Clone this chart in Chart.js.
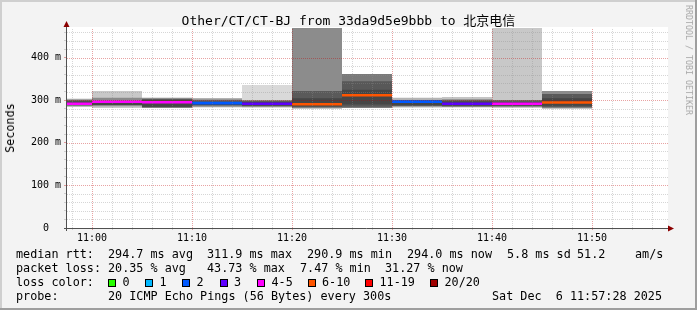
<!DOCTYPE html>
<html><head><meta charset="utf-8">
<script src="https://cdn.jsdelivr.net/npm/chart.js@4/dist/chart.umd.min.js"></script>
<style>
html,body{margin:0;padding:0;background:#f3f3f3;}
#wrap{position:relative;width:697px;height:310px;overflow:hidden;font-family:"DejaVu Sans Mono","Noto Sans CJK SC",monospace;color:#000;}
canvas{position:absolute;left:0;top:0;}
.t{position:absolute;white-space:pre;font-size:11.78px;line-height:14px;}
.sw{position:absolute;width:8px;height:8px;box-sizing:border-box;border:1px solid #000;}
#title{position:absolute;left:0;top:13px;width:697px;text-align:center;font-size:13px;line-height:16px;white-space:pre;}
#ylab{position:absolute;left:10px;top:128px;transform:translate(-50%,-50%) rotate(-90deg);font-size:11.78px;white-space:pre;}
#wm{position:absolute;left:689px;top:60px;transform:translate(-50%,-50%) rotate(90deg);font-size:8.3px;color:#a8a8a8;white-space:pre;}
</style>
</head><body>
<div id="wrap">
<canvas id="c" width="697" height="310"></canvas>
<div id="title"></div>
<div id="ylab"></div>
<div id="wm"></div>
<div id="legend"></div>
</div>
<script>
// ---------------- data ----------------
const chartTitle = 'Other/CT/CT-BJ from 33da9d5e9bbb to 北京电信';
const yAxisTitle = 'Seconds';
const slotStart = ['10:55','11:00','11:05','11:10','11:15','11:20','11:25','11:30','11:35','11:40','11:45'];
const medianRtt = [292, 296.5, 295.7, 293.5, 292, 291, 312, 297, 292, 292, 295];
const lostPings = [4, 4, 5, 2, 3, 9, 7, 2, 3, 5, 6];
const smokeOuterLo = [285, 282, 282, 284, 282, 281, 282, 283, 283, 282, 281];
const smokeOuterHi = [303.5, 322, 306, 305, 336, 520, 362, 306, 308, 520, 322];
const smokeMidLo   = [287, 286, 284, 287, 285, 284, 285, 286, 285, 285, 284];
const smokeMidHi   = [301, 306, 303, 301, 300, 322, 345, 301, 302, 301, 315];
const smokeInnerLo = [289, 289, 285, 289, 287, 286, 290, 288, 287, 287, 287];
const smokeInnerHi = [298, 298, 300, 297, 297, 305, 325, 299, 298, 297, 305];
const xTickLabels = ['11:00','11:10','11:20','11:30','11:40','11:50'];
const yTickValues = [0, 100, 200, 300, 400];
const yTickLabels = ['0  ','100 m','200 m','300 m','400 m'];
const lossLegendLabels = ['0','1','2','3','4-5','6-10','11-19','20/20'];
const lossLegendUpper  = [0, 1, 2, 3, 5, 10, 19, 20];
const medianStats = ['294.7 ms avg','311.9 ms max','290.9 ms min','294.0 ms now','5.8 ms sd','51.2','am/s'];
const lossStats = ['20.35 % avg','43.73 % max','7.47 % min','31.27 % now'];
const probeText = '20 ICMP Echo Pings (56 Bytes) every 300s';
const dateText = 'Sat Dec  6 11:57:28 2025';
const watermark = 'RRDTOOL / TOBI OETIKER';

// ---------------- styles ----------------
const lossColors = ['#26ff00','#00b8ff','#0059ff','#5e00ff','#ff00ff','#ff5500','#ff0000','#a00000'];
const outerShade = ['#a6a6a6','#c8c8c8','#8e8e8e','#9a9a9a','#d9d9d9','#8c8c8c','#7a7a7a','#b4b4b4','#c4c4c4','#c8c8c8','#8c8c8c'];
const midShade   = ['#6e6e6e','#8a8a8a','#5a5a5a','#6a6a6a','#707070','#5a5a5a','#585858','#6a6a6a','#6a6a6a','#707070','#5a5a5a'];
const innerShade = '#464646';
const SLOT_MIN = 5, X_MIN = -2.5, X_MAX = 57.5, Y_MAX = 470, LINE_HALF = 3;

const toMin = s => { const [h, m] = s.split(':').map(Number); return (h - 11) * 60 + m; };
const lossColor = n => lossColors[lossLegendUpper.findIndex(u => n <= u)];
const centers = slotStart.map(s => toMin(s) + SLOT_MIN / 2);
const band = (lo, hi) => centers.map((x, i) => ({x, y: [lo[i], hi[i]]}));
const xLabelAt = {}; xTickLabels.forEach(l => xLabelAt[toMin(l)] = l);
const yLabelAt = {}; yTickValues.forEach((v, i) => yLabelAt[v] = yTickLabels[i]);

const MINOR = 'rgba(140,140,140,0.36)';
const MAJOR = 'rgba(190,0,0,0.36)';
const gridColor = (v, major) => (v % major === 0) ? MAJOR : MINOR;

const PLOT_W = 600;
const barPx = PLOT_W / (X_MAX - X_MIN) * SLOT_MIN;

const deco = {
  id: 'deco',
  beforeDraw(chart) {
    const {ctx, chartArea: a, width: w, height: h} = chart;
    ctx.save();
    ctx.fillStyle = '#f3f3f3'; ctx.fillRect(0, 0, w, h);
    ctx.fillStyle = '#ffffff'; ctx.fillRect(a.left, a.top - 1, a.right - a.left + 1, a.bottom - a.top + 1);
    ctx.fillStyle = '#cfcfcf'; ctx.fillRect(0, 0, w, 2); ctx.fillRect(0, 0, 2, h);
    ctx.fillStyle = '#9e9e9e'; ctx.fillRect(0, h - 2, w, 2); ctx.fillRect(w - 2, 0, 2, h);
    ctx.restore();
  },
  afterDatasetsDraw(chart) {
    const {ctx, chartArea: a, scales: {x, y}} = chart;
    ctx.save();
    ctx.lineWidth = 1;
    ctx.setLineDash([1, 1]);
    x.ticks.forEach(t => {
      const px = Math.round(x.getPixelForValue(t.value)) + 0.5;
      ctx.strokeStyle = gridColor(t.value, 10);
      ctx.beginPath(); ctx.moveTo(px, a.bottom); ctx.lineTo(px, a.top); ctx.stroke();
    });
    y.ticks.forEach(t => {
      if (t.value === 0) return;
      const py = Math.round(y.getPixelForValue(t.value)) + 0.5;
      ctx.strokeStyle = gridColor(t.value, 100);
      ctx.beginPath(); ctx.moveTo(a.left, py); ctx.lineTo(a.right + 1, py); ctx.stroke();
    });
    ctx.restore();
  },
  afterDraw(chart) {
    const {ctx, chartArea: a} = chart;
    ctx.save();
    ctx.strokeStyle = '#505050'; ctx.lineWidth = 1;
    ctx.beginPath();
    ctx.moveTo(a.left - 0.5, a.bottom + 3); ctx.lineTo(a.left - 0.5, a.top - 2);
    ctx.moveTo(a.left - 3, a.bottom + 0.5); ctx.lineTo(a.right + 2, a.bottom + 0.5);
    ctx.stroke();
    ctx.fillStyle = '#8b0000';
    ctx.beginPath();
    ctx.moveTo(a.left - 0.5, a.top - 7); ctx.lineTo(a.left - 3.5, a.top - 1); ctx.lineTo(a.left + 2.5, a.top - 1); ctx.closePath(); ctx.fill();
    ctx.beginPath();
    ctx.moveTo(a.right + 7, a.bottom + 0.5); ctx.lineTo(a.right + 1, a.bottom - 2.5); ctx.lineTo(a.right + 1, a.bottom + 3.5); ctx.closePath(); ctx.fill();
    ctx.restore();
  }
};

const tickFont = {family: 'DejaVu Sans Mono', size: 10};

new Chart(document.getElementById('c'), {
  type: 'bar',
  data: {
    datasets: [
      {label: 'median', data: centers.map((x, i) => ({x, y: [medianRtt[i] - LINE_HALF, medianRtt[i] + LINE_HALF]})),
       backgroundColor: lostPings.map(lossColor), order: 1},
      {label: 'inner', data: band(smokeInnerLo, smokeInnerHi), backgroundColor: innerShade, order: 2},
      {label: 'mid', data: band(smokeMidLo, smokeMidHi), backgroundColor: midShade, order: 3},
      {label: 'outer', data: band(smokeOuterLo, smokeOuterHi), backgroundColor: outerShade, order: 4}
    ]
  },
  options: {
    responsive: false, animation: false, devicePixelRatio: 1,
    layout: {padding: {left: 0, top: 28, right: 30, bottom: 62}},
    plugins: {legend: {display: false}, tooltip: {enabled: false}, title: {display: false}},
    datasets: {bar: {grouped: false, barThickness: barPx, borderWidth: 0, inflateAmount: 0}},
    scales: {
      x: {
        type: 'linear', min: X_MIN, max: X_MAX, offset: false,
        afterFit(s) { s.height = 20; },
        afterBuildTicks(s) { const t = []; for (let v = -2; v <= 56; v += 2) t.push({value: v}); s.ticks = t; },
        ticks: {autoSkip: false, maxRotation: 0, minRotation: 0, padding: 2, font: tickFont, color: '#000',
                callback: v => xLabelAt[v] || ''},
        grid: {offset: false, drawOnChartArea: false, color: c => gridColor(c.tick ? c.tick.value : 1, 10), tickLength: 2, lineWidth: 1},
        border: {display: false}
      },
      y: {
        type: 'linear', min: 0, max: Y_MAX,
        afterFit(s) { s.width = 67; },
        afterBuildTicks(s) { const t = []; for (let v = 0; v <= 460; v += 20) t.push({value: v}); s.ticks = t; },
        ticks: {autoSkip: false, padding: 3, font: tickFont, color: '#000',
                callback: v => (v in yLabelAt) ? yLabelAt[v] : ''},
        grid: {drawOnChartArea: false, color: c => gridColor(c.tick ? c.tick.value : 1, 100), tickLength: 3, lineWidth: 1},
        border: {display: false}
      }
    }
  },
  plugins: [deco]
});

// ---------------- text ----------------
document.getElementById('title').textContent = chartTitle;
document.getElementById('ylab').textContent = yAxisTitle;
document.getElementById('wm').textContent = watermark;
const leg = document.getElementById('legend');
const put = (txt, x, y, cls) => { const d = document.createElement('div'); d.className = cls || 't'; d.textContent = txt; d.style.left = x + 'px'; d.style.top = y + 'px'; leg.appendChild(d); return d; };
const rows = [247, 261, 275, 289];
put('median rtt:', 16, rows[0]);
[108, 207, 307, 407, 507, 577, 635].forEach((x, i) => put(medianStats[i], x, rows[0]));
put('packet loss:', 16, rows[1]);
[108, 207, 300, 385].forEach((x, i) => put(lossStats[i], x, rows[1]));
put('loss color:', 16, rows[2]);
const swX = [108, 145, 182, 219.5, 257, 307.5, 365, 430];
lossLegendLabels.forEach((l, i) => {
  const s = put('', swX[i], 279, 'sw'); s.style.background = lossColors[i];
  put(l, swX[i] + 14.5, rows[2]);
});
put('probe:', 16, rows[3]);
put(probeText, 108, rows[3]);
const dt = put(dateText, 0, rows[3]); dt.style.left = ''; dt.style.right = '35px';
</script>
</body></html>
